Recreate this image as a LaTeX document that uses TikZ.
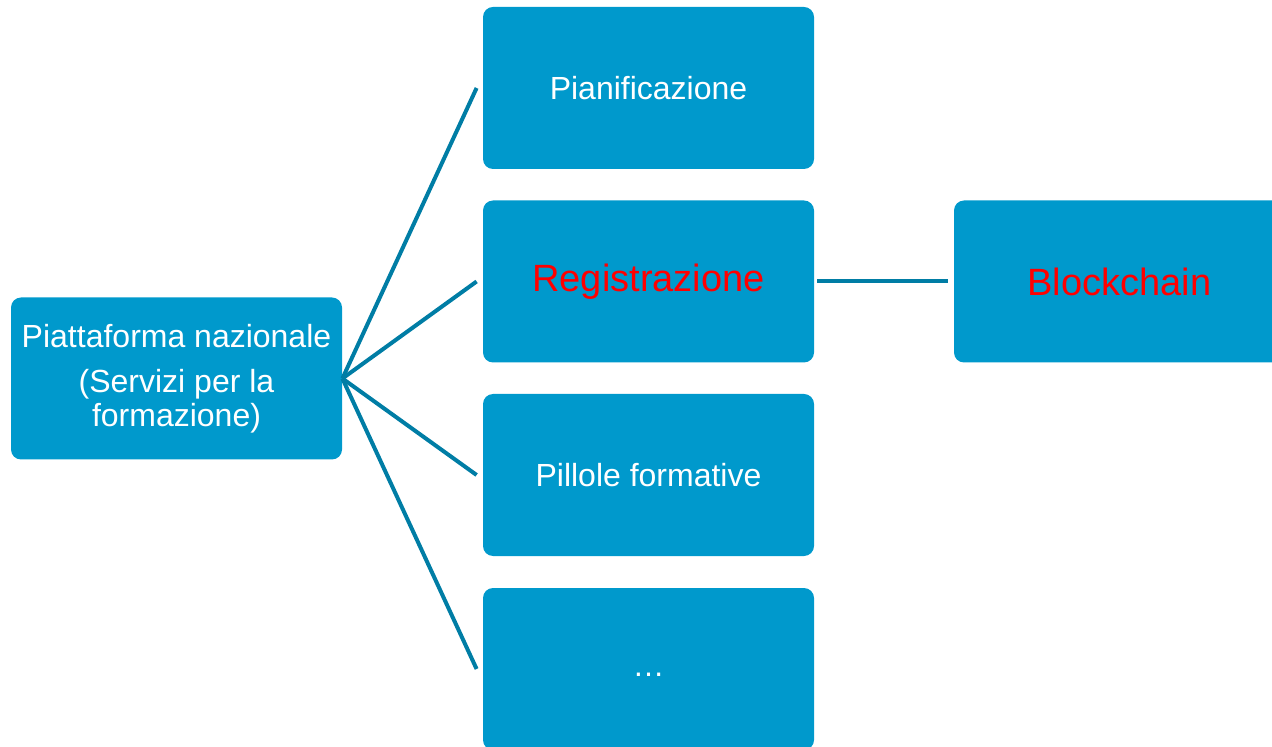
\documentclass[tikz,border=0pt]{standalone}
\usepackage{fontspec}
\setmainfont{Liberation Sans}
\definecolor{boxblue}{RGB}{0,153,204}
\definecolor{lineblue}{RGB}{0,125,165}
\definecolor{hotred}{RGB}{255,0,0}
\begin{document}
\begin{tikzpicture}[x=0.5pt,y=0.5pt]
\tikzstyle{every node}+=[inner sep=0pt]
\tikzstyle{box}=[fill=boxblue, rounded corners=5pt, minimum width=165.5pt, minimum height=81pt, text=white, font=\fontsize{16}{17}\selectfont, align=center]
\tikzstyle{link}=[draw=lineblue, line width=2pt]
\useasboundingbox (0,0) rectangle (1272,-747);
\node [box] (root) at (176.5,-378.5) {Piattaforma nazionale\\[5.5pt](Servizi per la\\formazione)};
\node [box] (plan) at (648.5,-88) {Pianificazione};
\node [box, text=hotred, font=\fontsize{19}{20}\selectfont] (reg) at (648.5,-281.5) {Registrazione};
\node [box] (pill) at (648.5,-475) {Pillole formative};
\node [box] (etc) at (648.5,-669) {\vphantom{Pp}\dots};
\node [box, text=hotred, font=\fontsize{19}{20}\selectfont] (chain) at (1119.5,-281.5) {Blockchain};
\draw [link] (root.east) -- ([xshift=-3pt]plan.west);
\draw [link] (root.east) -- ([xshift=-3pt]reg.west);
\draw [link] (root.east) -- ([xshift=-3pt]pill.west);
\draw [link] (root.east) -- ([xshift=-3pt]etc.west);
\draw [link] ([xshift=1.5pt]reg.east) -- ([xshift=-3pt]chain.west);
\end{tikzpicture}
\end{document}
